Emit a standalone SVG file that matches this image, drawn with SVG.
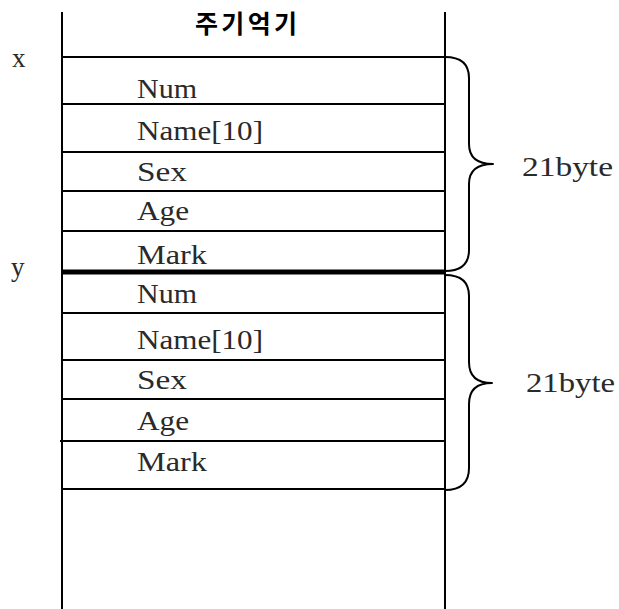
<svg xmlns="http://www.w3.org/2000/svg" width="619" height="609" viewBox="0 0 619 609">
  <style>
    .ln { stroke: #000; stroke-width: 2; fill: none; }
    .thick { stroke: #000; stroke-width: 5; fill: none; }
    .br { stroke: #000; stroke-width: 2; fill: none; stroke-linejoin: round; }
    .f { font-family: "Liberation Serif", "Noto Serif", serif; font-size: 27px; fill: #2a2a2a; }
    .lab { font-family: "Liberation Serif", serif; font-size: 27px; fill: #2a2a2a; }
    .sz { font-family: "Liberation Serif", serif; font-size: 28px; fill: #2a2a2a; }
    .ttl { font-family: "Noto Sans CJK KR", "Noto Sans", sans-serif; font-size: 25px; font-weight: bold; fill: #000; }
  </style>
  <rect width="619" height="609" fill="#fff"/>

  <g id="title">
    <text class="ttl" x="195" y="33" textLength="102" lengthAdjust="spacing">주기억기</text>
  </g>

  <g id="memory-frame">
    <line class="ln" x1="62" y1="12" x2="62" y2="609"/>
    <line class="ln" x1="445" y1="12" x2="445" y2="609"/>
  </g>

  <g id="labels">
    <text class="lab" x="12" y="67">x</text>
    <text class="lab" x="11" y="276">y</text>
  </g>

  <g id="record-x">
    <line class="ln" x1="62" y1="57" x2="445" y2="57"/>
    <line class="ln" x1="62" y1="104" x2="445" y2="104"/>
    <line class="ln" x1="62" y1="152" x2="445" y2="152"/>
    <line class="ln" x1="62" y1="191" x2="445" y2="191"/>
    <line class="ln" x1="62" y1="231" x2="445" y2="231"/>
    <text class="f" x="137" y="98" textLength="60" lengthAdjust="spacingAndGlyphs">Num</text>
    <text class="f" x="137" y="140" textLength="126" lengthAdjust="spacingAndGlyphs">Name[10]</text>
    <text class="f" x="137" y="181" textLength="50" lengthAdjust="spacingAndGlyphs">Sex</text>
    <text class="f" x="137" y="220" textLength="52" lengthAdjust="spacingAndGlyphs">Age</text>
    <text class="f" x="137" y="264" textLength="70" lengthAdjust="spacingAndGlyphs">Mark</text>
  </g>

  <g id="record-y">
    <line class="thick" x1="62" y1="272" x2="445" y2="272"/>
    <line class="ln" x1="62" y1="313" x2="445" y2="313"/>
    <line class="ln" x1="62" y1="360" x2="445" y2="360"/>
    <line class="ln" x1="62" y1="399" x2="445" y2="399"/>
    <line class="ln" x1="60" y1="441" x2="445" y2="441"/>
    <line class="ln" x1="62" y1="489" x2="445" y2="489"/>
    <text class="f" x="137" y="303" textLength="60" lengthAdjust="spacingAndGlyphs">Num</text>
    <text class="f" x="137" y="349" textLength="126" lengthAdjust="spacingAndGlyphs">Name[10]</text>
    <text class="f" x="137" y="389" textLength="50" lengthAdjust="spacingAndGlyphs">Sex</text>
    <text class="f" x="137" y="430" textLength="52" lengthAdjust="spacingAndGlyphs">Age</text>
    <text class="f" x="137" y="471" textLength="70" lengthAdjust="spacingAndGlyphs">Mark</text>
  </g>

  <g id="connectors">
    <path class="br" d="M445,57 Q469,57 469,78 L469,144 Q469,164 493,164 Q469,164 469,184 L469,250 Q469,271 445,271"/>
    <path class="br" d="M445,275 Q469,275 469,296 L469,362 Q469,383 492,383 Q469,383 469,404 L469,468 Q469,490 445,490"/>
  </g>

  <g id="sizes">
    <text class="sz" x="522" y="176" textLength="91" lengthAdjust="spacingAndGlyphs">21byte</text>
    <text class="sz" x="526" y="392" textLength="89" lengthAdjust="spacingAndGlyphs">21byte</text>
  </g>
</svg>
